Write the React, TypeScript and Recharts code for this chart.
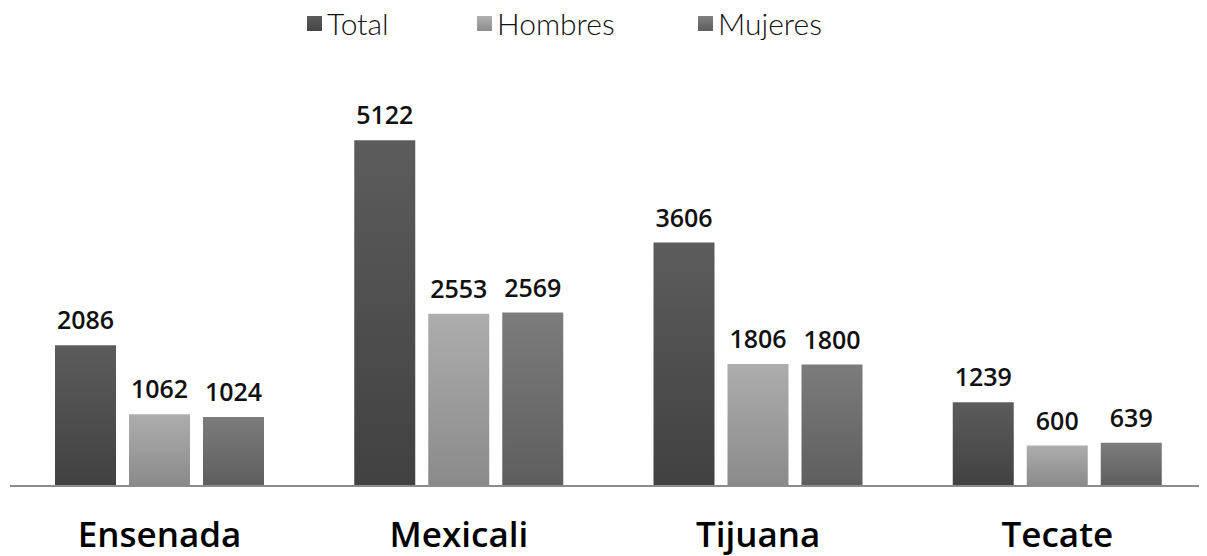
import { Bar, BarChart, LabelList, XAxis, YAxis } from 'recharts';

const municipios = ['Ensenada', 'Mexicali', 'Tijuana', 'Tecate'];
const total = [2086, 5122, 3606, 1239];
const hombres = [1062, 2553, 1806, 600];
const mujeres = [1024, 2569, 1800, 639];

const series = [
  { key: 'total', name: 'Total', fill: 'url(#gTotal)', swatch: 'linear-gradient(#5c5c5c, #444)' },
  { key: 'hombres', name: 'Hombres', fill: 'url(#gHombres)', swatch: 'linear-gradient(#b0b0b0, #8c8c8c)' },
  { key: 'mujeres', name: 'Mujeres', fill: 'url(#gMujeres)', swatch: 'linear-gradient(#808080, #5e5e5e)' },
];

const data = municipios.map((m, i) => ({
  name: m,
  total: total[i],
  hombres: hombres[i],
  mujeres: mujeres[i],
}));

// leyenda propia arriba, fuera del area del grafico
function LegendBox() {
  const lefts = [307, 477, 698];
  return (
    <div style={{ position: 'absolute', top: 5, left: 0, height: 36, fontFamily: 'Lato, sans-serif', fontWeight: 300, fontSize: 30, color: '#111' }}>
      {series.map((s, i) => (
        <div key={s.key} style={{ position: 'absolute', left: lefts[i], top: 0, display: 'flex', alignItems: 'center', whiteSpace: 'nowrap', height: 36 }}>
          <span style={{ display: 'inline-block', width: 15, height: 15, background: s.swatch, marginRight: 5 }} />
          {s.name}
        </div>
      ))}
    </div>
  );
}

export default function App() {
  return (
    <div style={{ position: 'relative', margin: '-8px 0 0 -8px', width: 1207, height: 556, background: '#fff' }}>
      <LegendBox />
      <BarChart
        width={1207}
        height={556}
        data={data}
        margin={{ top: 81, right: 0, bottom: 0, left: 10 }}
        barSize={61}
        barGap={13}
        barCategoryGap="15%"
      >
        <defs>
          <linearGradient id="gTotal" x1="0" y1="0" x2="0" y2="1">
            <stop offset="0%" stopColor="#5c5c5c" />
            <stop offset="100%" stopColor="#414141" />
          </linearGradient>
          <linearGradient id="gHombres" x1="0" y1="0" x2="0" y2="1">
            <stop offset="0%" stopColor="#adadad" />
            <stop offset="100%" stopColor="#8a8a8a" />
          </linearGradient>
          <linearGradient id="gMujeres" x1="0" y1="0" x2="0" y2="1">
            <stop offset="0%" stopColor="#7c7c7c" />
            <stop offset="100%" stopColor="#5e5e5e" />
          </linearGradient>
        </defs>
        <XAxis
          dataKey="name"
          axisLine={{ stroke: '#8c8c8c', strokeWidth: 2 }}
          tickLine={false}
          height={70}
          tick={{ fontSize: 35, fontWeight: 600, fill: '#000', fontFamily: '"Open Sans", sans-serif', dy: 28 }}
        />
        <YAxis hide domain={[0, 6000]} />
        {series.map((s) => (
          <Bar key={s.key} dataKey={s.key} name={s.name} fill={s.fill} isAnimationActive={false}>
            <LabelList
              dataKey={s.key}
              position="top"
              offset={16}
              style={{ fontSize: 25, fontWeight: 600, fill: '#111', fontFamily: '"Open Sans", sans-serif' }}
            />
          </Bar>
        ))}
      </BarChart>
    </div>
  );
}
